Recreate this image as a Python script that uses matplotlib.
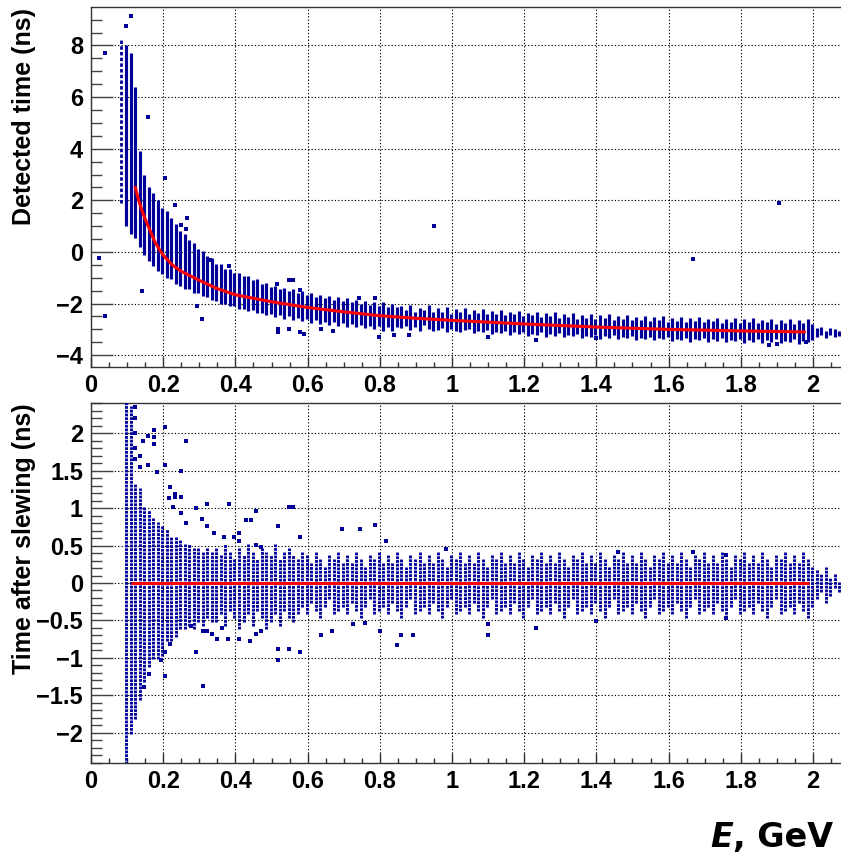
import numpy as np
import matplotlib
matplotlib.use("Agg")
import matplotlib.pyplot as plt
from matplotlib.ticker import MultipleLocator, FuncFormatter

plt.rcParams['font.family'] = ['Liberation Sans', 'DejaVu Sans']
plt.rcParams['font.weight'] = 'bold'
plt.rcParams['lines.scale_dashes'] = False

nan = np.nan
BLUE = '#000099'
RED = '#ff0000'

# Energy columns of the scatter (GeV): bin grid of the event display
COL_E0, COL_DE, N_COL = 0.085, 0.0125, 160
E_COL = np.round(COL_E0 + COL_DE * np.arange(N_COL), 5)

# Detected time: lower / upper edge of the event column in each energy bin (ns)
TOP_LO = [
    nan, 1.0, 0.7, 0.55, 0.2, -0.1, -0.35, -0.55, -0.75, -0.85,
    -1.0, -1.05, -1.25, -1.3, -1.42, -1.45, -1.58, -1.6, -1.7, -1.75,
    -1.88, -1.9, -2.0, -2.0, -2.1, -2.1, -2.2, -2.2, -2.3, -2.25,
    -2.38, -2.35, -2.45, -2.4, -2.52, -2.45, -2.58, -2.5, -2.62, -2.55,
    -2.68, -2.6, -2.75, -2.62, -2.78, -2.7, -2.82, -2.72, -2.85, -2.75,
    -2.9, -2.8, -2.92, -2.82, -2.95, -2.85, -3.0, -2.88, -3.05, -2.9,
    -3.05, -2.92, -2.94, -2.85, -3.01, -2.92, -3.08, -2.84, -3.0, -3.06,
    -3.02, -2.93, -3.09, -3.0, -3.06, -3.12, -3.03, -2.99, -3.15, -3.06,
    -3.11, -3.02, -3.18, -3.09, -3.15, -3.06, -3.22, -3.12, -3.18, -3.09,
    -3.25, -3.16, -3.21, -3.12, -3.28, -3.19, -3.24, -3.15, -3.31, -3.21,
    -3.27, -3.18, -3.34, -3.24, -3.3, -3.21, -3.36, -3.27, -3.32, -3.23,
    -3.39, -3.29, -3.35, -3.25, -3.41, -3.32, -3.37, -3.28, -3.43, -3.34,
    -3.39, -3.3, -3.45, -3.36, -3.41, -3.32, -3.47, -3.37, -3.43, -3.33,
    -3.48, -3.39, -3.44, -3.35, -3.5, -3.4, -3.46, -3.36, -3.51, -3.42,
    -3.47, -3.37, -3.53, -3.43, -3.48, -3.38, -3.54, -3.44, -3.49, -3.39,
    -3.55, -3.45, -3.5, -3.4, -3.3, -3.2, -3.35, -3.2, -3.3, -3.25,
]
TOP_HI = [
    nan, 8.0, 7.7, 6.4, 3.9, 3.0, 2.5, 2.3, 2.0, 1.7,
    1.6, 1.3, 1.1, 0.8, 0.7, 0.45, 0.35, 0.1, 0.05, -0.15,
    -0.25, -0.45, -0.45, -0.65, -0.65, -0.8, -0.8, -0.95, -0.95, -1.1,
    -1.05, -1.25, -1.2, -1.35, -1.3, -1.45, -1.38, -1.52, -1.45, -1.6,
    -1.5, -1.68, -1.6, -1.75, -1.65, -1.8, -1.7, -1.85, -1.75, -1.9,
    -1.8, -1.95, -1.85, -2.0, -1.9, -2.05, -1.92, -2.1, -1.95, -2.12,
    -2.0, -2.15, -2.09, -2.25, -2.06, -2.32, -2.18, -2.24, -2.05, -2.31,
    -2.17, -2.33, -2.14, -2.4, -2.21, -2.32, -2.18, -2.39, -2.25, -2.36,
    -2.21, -2.42, -2.28, -2.39, -2.25, -2.46, -2.32, -2.42, -2.28, -2.49,
    -2.35, -2.46, -2.31, -2.52, -2.38, -2.49, -2.34, -2.55, -2.41, -2.51,
    -2.37, -2.58, -2.44, -2.54, -2.4, -2.61, -2.46, -2.57, -2.42, -2.63,
    -2.49, -2.59, -2.45, -2.65, -2.51, -2.62, -2.47, -2.68, -2.53, -2.64,
    -2.49, -2.7, -2.55, -2.66, -2.51, -2.72, -2.57, -2.67, -2.53, -2.73,
    -2.58, -2.69, -2.54, -2.75, -2.6, -2.7, -2.56, -2.76, -2.61, -2.72,
    -2.57, -2.77, -2.63, -2.73, -2.58, -2.78, -2.64, -2.74, -2.59, -2.79,
    -2.65, -2.75, -2.6, -2.8, -2.95, -2.9, -3.05, -2.95, -3.0, -3.05,
]

# Sparse column at the very low energy end (E, t_lo, t_hi)
SPARSE_E, SPARSE_LO, SPARSE_HI = [0.083], [1.9], [8.2]

# Isolated events, detected time
TOP_OUT_E = [0.022, 0.04, 0.04, 0.096, 0.112, 0.158, 0.205, 0.142, 0.232, 0.248,
             0.262, 0.265, 0.308, 0.295, 0.33, 0.381, 0.516, 0.548, 0.56, 0.578,
             0.518, 0.518, 0.548, 0.578, 0.59, 0.636, 0.67, 0.742, 0.786, 0.797,
             0.95, 1.667, 1.905, 0.84, 0.88, 1.1, 1.234, 1.4, 1.878, 1.9, 1.98]
TOP_OUT_T = [-0.25, -2.47, 7.72, 8.77, 9.15, 5.22, 2.86, -1.51, 1.82, 1.06,
             0.9, 1.3, -2.61, -2.1, -0.3, -0.55, -1.26, -1.08, -1.1, -1.47,
             -3.0, -3.1, -3.0, -3.1, -3.17, -3.0, -3.05, -1.77, -1.8, -3.3,
             1.0, -0.26, 1.9, -3.2, -3.2, -3.3, -3.4, -3.35, -3.6, -3.55, -3.5]

# Slewing fit curve
FIT_E = [0.122, 0.13, 0.14, 0.15, 0.16, 0.175, 0.19, 0.2, 0.225, 0.25, 0.3, 0.35,
         0.4, 0.5, 0.6, 0.7, 0.8, 0.9, 1.0, 1.2, 1.4, 1.6, 1.8, 1.98]
FIT_T = [2.55, 2.1, 1.65, 1.28, 0.95, 0.45, 0.08, -0.12, -0.5, -0.75, -1.1, -1.42,
         -1.66, -1.93, -2.15, -2.32, -2.47, -2.57, -2.65, -2.79, -2.91, -3.0, -3.06, -3.1]

# Time after slewing: lower / upper edge of the event column per energy bin (ns)
BOT_LO = [
    nan, -2.4, -2.0, -1.8, -1.55, -1.3, -1.1, -1.0, -1.0, -0.95,
    -0.75, -0.75, -0.7, -0.6, -0.6, -0.55, -0.6, -0.5, -0.55, -0.45,
    -0.5, -0.5, -0.4, -0.55, -0.35, -0.45, -0.6, -0.5, -0.4, -0.55,
    -0.35, -0.45, -0.6, -0.5, -0.4, -0.55, -0.35, -0.45, -0.5, -0.4,
    -0.3, -0.4, -0.25, -0.35, -0.45, -0.3, -0.2, -0.4, -0.35, -0.3,
    -0.4, -0.25, -0.35, -0.45, -0.3, -0.2, -0.4, -0.35, -0.3, -0.4,
    -0.25, -0.35, -0.45, -0.3, -0.2, -0.4, -0.35, -0.3, -0.4, -0.25,
    -0.35, -0.45, -0.3, -0.2, -0.4, -0.35, -0.3, -0.4, -0.25, -0.35,
    -0.45, -0.3, -0.2, -0.4, -0.35, -0.3, -0.4, -0.25, -0.35, -0.45,
    -0.3, -0.2, -0.4, -0.35, -0.3, -0.4, -0.25, -0.35, -0.45, -0.3,
    -0.2, -0.4, -0.35, -0.3, -0.4, -0.25, -0.35, -0.45, -0.3, -0.2,
    -0.4, -0.35, -0.3, -0.4, -0.25, -0.35, -0.45, -0.3, -0.2, -0.4,
    -0.35, -0.3, -0.4, -0.25, -0.35, -0.45, -0.3, -0.2, -0.4, -0.35,
    -0.3, -0.4, -0.25, -0.35, -0.45, -0.3, -0.2, -0.4, -0.35, -0.3,
    -0.4, -0.25, -0.35, -0.45, -0.3, -0.2, -0.4, -0.35, -0.3, -0.4,
    -0.25, -0.35, -0.45, -0.3, -0.2, -0.1, -0.25, -0.15, -0.05, -0.1,
]
BOT_HI = [
    nan, 2.4, 2.35, 1.3, 1.25, 1.0, 0.95, 0.85, 0.8, 0.75,
    0.7, 0.6, 0.6, 0.55, 0.5, 0.5, 0.45, 0.45, 0.4, 0.45,
    0.4, 0.45, 0.35, 0.5, 0.4, 0.3, 0.45, 0.35, 0.5, 0.4,
    0.3, 0.45, 0.4, 0.35, 0.5, 0.3, 0.4, 0.45, 0.35, 0.3,
    0.4, 0.35, 0.25, 0.4, 0.3, 0.2, 0.35, 0.3, 0.4, 0.25,
    0.35, 0.25, 0.4, 0.3, 0.2, 0.35, 0.3, 0.4, 0.25, 0.35,
    0.25, 0.4, 0.3, 0.2, 0.35, 0.3, 0.4, 0.25, 0.35, 0.25,
    0.4, 0.3, 0.2, 0.35, 0.3, 0.4, 0.25, 0.35, 0.25, 0.4,
    0.3, 0.2, 0.35, 0.3, 0.4, 0.25, 0.35, 0.25, 0.4, 0.3,
    0.2, 0.35, 0.3, 0.4, 0.25, 0.35, 0.25, 0.4, 0.3, 0.2,
    0.35, 0.3, 0.4, 0.25, 0.35, 0.25, 0.4, 0.3, 0.2, 0.35,
    0.3, 0.4, 0.25, 0.35, 0.25, 0.4, 0.3, 0.2, 0.35, 0.3,
    0.4, 0.25, 0.35, 0.25, 0.4, 0.3, 0.2, 0.35, 0.3, 0.4,
    0.25, 0.35, 0.25, 0.4, 0.3, 0.2, 0.35, 0.3, 0.4, 0.25,
    0.35, 0.25, 0.4, 0.3, 0.2, 0.35, 0.3, 0.4, 0.25, 0.35,
    0.25, 0.4, 0.3, 0.2, 0.15, 0.1, 0.2, 0.05, 0.1, 0.0,
]

# Isolated events after slewing correction
BOT_OUT_E = [0.1225, 0.1225, 0.1225, 0.1225, 0.1225, 0.135, 0.135, 0.145, 0.159, 0.159,
             0.174, 0.174, 0.174, 0.182, 0.204, 0.204, 0.219, 0.233, 0.248, 0.262,
             0.233, 0.248, 0.29, 0.322, 0.382, 0.456, 0.518, 0.548, 0.56, 0.579,
             0.308, 0.322, 0.34, 0.368, 0.396, 0.41, 0.41, 0.428, 0.442, 0.456,
             0.47, 0.215, 0.228, 0.248, 0.262, 0.696, 0.744, 0.786, 0.818, 0.982,
             1.46, 1.668, 1.76,
             0.204, 0.16, 0.147, 0.31, 0.292, 0.22, 0.204, 0.276, 0.31, 0.322,
             0.336, 0.35, 0.364, 0.38, 0.41, 0.44, 0.456, 0.47, 0.518, 0.518,
             0.548, 0.579, 0.636, 0.193, 0.667, 0.725, 0.76, 0.8, 0.848, 0.86,
             0.892, 1.1, 1.1, 1.234, 1.4, 1.758]
BOT_OUT_T = [2.35, 2.2, 2.0, 1.8, 1.65, 1.7, 1.55, 1.9, 1.96, 1.58,
             2.05, 1.95, 1.85, 1.48, 2.09, 1.58, 1.28, 1.19, 1.5, 1.9,
             1.15, 1.15, 1.0, 1.06, 1.06, 0.96, 0.76, 1.01, 1.01, 0.62,
             0.85, 0.76, 0.67, 0.62, 0.62, 0.67, 0.56, 0.84, 0.84, 0.51,
             0.48, 1.13, 1.02, 0.93, 0.8, 0.72, 0.72, 0.77, 0.56, 0.46,
             0.41, 0.41, 0.37,
             -1.24, -1.22, -1.39, -1.37, -0.92, -0.82, -0.92, -0.58, -0.64, -0.64,
             -0.68, -0.75, -0.6, -0.75, -0.75, -0.78, -0.68, -0.64, -0.88, -1.03,
             -0.88, -0.92, -0.7, -1.03, -0.64, -0.55, -0.54, -0.64, -0.83, -0.7,
             -0.7, -0.55, -0.7, -0.6, -0.51, -0.47]

# Slewing-corrected fit (flat at zero)
FIT2_E = [0.11, 1.99]
FIT2_T = [0.0, 0.0]

TIME_STEP = 0.05  # ns, time digitisation

FIG_W, FIG_H, DPI = 8.41, 8.59, 100
fig = plt.figure(figsize=(FIG_W, FIG_H), dpi=DPI)
W, H = FIG_W * DPI, FIG_H * DPI

ax_left = 91 / W
ax_width = (842.5 - 91) / W
ax_height = 359.4 / H
ax1 = fig.add_axes([ax_left, (H - 366.7) / H, ax_width, ax_height])
ax2 = fig.add_axes([ax_left, (H - 762.7) / H, ax_width, ax_height])

XMAX = 751.5 / 361.0
ax1.set_xlim(0, XMAX)
ax2.set_xlim(0, XMAX)
ax1.set_ylim(-4.446, 9.48)
ax2.set_ylim(-2.4, 2.4)


def fmt(v, pos):
    s = '%g' % (round(v, 6) + 0.0)
    return s.replace('-', '\u2212')


for ax in (ax1, ax2):
    ax.set_axisbelow(True)
    ax.grid(True, which='major', color='black', linestyle=(0, (0.9, 1.5)), linewidth=0.8)
    ax.xaxis.set_major_locator(MultipleLocator(0.2))
    ax.xaxis.set_minor_locator(MultipleLocator(0.05))
    ax.xaxis.set_major_formatter(FuncFormatter(fmt))
    ax.yaxis.set_major_formatter(FuncFormatter(fmt))
    ax.tick_params(axis='x', which='major', direction='in', length=7.2, width=1.0,
                   color='#333333', labelsize=17, pad=5)
    ax.tick_params(axis='x', which='minor', direction='in', length=3.6, width=1.0,
                   color='#333333')
    ax.tick_params(axis='y', which='major', direction='in', length=15.8, width=1.0,
                   color='#444444', labelsize=17, pad=5.8)
    ax.tick_params(axis='y', which='minor', direction='in', length=8.0, width=1.0,
                   color='#444444')
    for lab in ax.get_xticklabels() + ax.get_yticklabels():
        lab.set_fontweight('bold')
    ax.spines['right'].set_visible(False)
    for s in ('left', 'bottom', 'top'):
        ax.spines[s].set_color('#333333')
        ax.spines[s].set_linewidth(1.0)

ax1.yaxis.set_major_locator(MultipleLocator(2))
ax1.yaxis.set_minor_locator(MultipleLocator(0.5))
ax2.yaxis.set_major_locator(MultipleLocator(0.5))
ax2.yaxis.set_minor_locator(MultipleLocator(0.1))

# ---- upper panel: detected time vs energy ----
top_lo = np.array(TOP_LO, dtype=float)
top_hi = np.array(TOP_HI, dtype=float)
m = ~np.isnan(top_lo)
ax1.vlines(E_COL[m], top_lo[m], top_hi[m], colors=BLUE, linewidth=2.25, zorder=3)
ax1.vlines(SPARSE_E, SPARSE_LO, SPARSE_HI, colors=BLUE, linewidth=2.0,
           linestyles=[(0, (2.5, 1.6))], zorder=3)
ax1.plot(TOP_OUT_E, TOP_OUT_T, ls='none', marker='s', ms=2.2, mew=0, color=BLUE, zorder=3)
ax1.plot(FIT_E, FIT_T, color=RED, linewidth=2.2, zorder=4, solid_capstyle='butt')

# ---- lower panel: time after slewing correction ----
px_per_ns = ax_height * H / (2.4 - (-2.4))
pt_per_px = 72.0 / DPI
period_pt = TIME_STEP * px_per_ns * pt_per_px
dot_pt = 2.0
half_dot_ns = 0.5 * dot_pt / pt_per_px / px_per_ns
bot_lo = np.array(BOT_LO, dtype=float)
bot_hi = np.array(BOT_HI, dtype=float)
m2 = ~np.isnan(bot_lo)
ax2.vlines(E_COL[m2], bot_lo[m2] - half_dot_ns, bot_hi[m2] + half_dot_ns,
           colors=BLUE, linewidth=2.1,
           linestyles=[(0, (dot_pt, period_pt - dot_pt))], zorder=3)
ax2.plot(BOT_OUT_E, BOT_OUT_T, ls='none', marker='s', ms=2.2, mew=0, color=BLUE, zorder=3)
ax2.plot(FIT2_E, FIT2_T, color=RED, linewidth=2.2, zorder=4, solid_capstyle='butt')

# ---- axis titles ----
fig.text(24 / W, 1 - 8 / H, 'Detected time (ns)', rotation=90, ha='center', va='top',
         fontsize=18, fontweight='bold')
fig.text(24 / W, 1 - 403 / H, 'Time after slewing (ns)', rotation=90, ha='center',
         va='top', fontsize=18, fontweight='bold')

unit = fig.text(833 / W, 1 - 847 / H, ', GeV', ha='right', va='baseline', fontsize=24,
                fontweight='bold', family=['DejaVu Sans'])
fig.canvas.draw()
bb = unit.get_window_extent()
fig.text(bb.x0 / W, 1 - 847 / H, 'E', ha='right', va='baseline', fontsize=24,
         fontweight='bold', fontstyle='italic', family=['DejaVu Sans'])

fig.savefig('out.png', dpi=DPI)
